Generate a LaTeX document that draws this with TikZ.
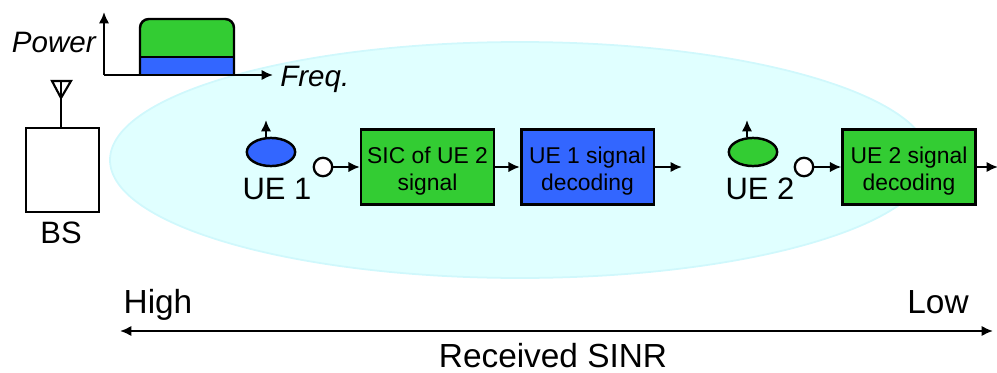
\documentclass[tikz,border=0pt]{standalone}
\usepackage{fontspec}
\setmainfont{Liberation Sans}
\usetikzlibrary{arrows.meta,positioning,shapes.geometric}
\definecolor{uegreen}{HTML}{33CC33}
\definecolor{ueblue}{HTML}{3366FF}
\definecolor{cellfill}{HTML}{E0FFFF}
\definecolor{celledge}{HTML}{D0F8FC}
\newcommand{\blocktext}[2]{\rule{0pt}{14.5pt}#1\\#2}
\tikzset{
  blockbox/.style={draw,line width=1.5pt,minimum width=75.5pt,minimum height=42.5pt,inner sep=0pt,align=center,font=\fontsize{13}{15.3}\selectfont},
  uelabel/.style={inner sep=0pt,anchor=base,font=\fontsize{17.6}{20}\selectfont},
  biglabel/.style={inner sep=0pt,anchor=base,font=\fontsize{19}{22}\selectfont},
  axislabel/.style={inner sep=0pt,font=\fontsize{16.8}{20}\selectfont\itshape},
  uedot/.style={circle,draw,fill=white,line width=1.3pt,minimum size=10.5pt,inner sep=0pt},
  uehead/.style={ellipse,draw,line width=1.4pt,minimum width=27.5pt,minimum height=16pt,inner sep=0pt},
  sig/.style={-{Latex[length=6.5pt,width=6pt]},line width=1.3pt}
}
\begin{document}
\begin{tikzpicture}[x=0.02cm,y=-0.02cm]
  \useasboundingbox (0,0) rectangle (997,372);

  % Celda
  \path[draw=celledge,fill=cellfill,line width=1pt] (520,160) ellipse (410 and 118);

  % Espectro
  \fill[uegreen,rounded corners=5pt] (140,65) -- (140,19) -- (234,19) -- (234,65) -- cycle;
  \fill[ueblue] (140,57) rectangle (234,75);
  \draw[line width=1.4pt,rounded corners=5pt] (140,75) -- (140,19) -- (234,19) -- (234,75);
  \draw[line width=1.4pt] (140,57) -- (234,57);
  \coordinate (origin) at (104,75);
  \node[axislabel,anchor=base east] (power) at (96,52) {Power};
  \node[axislabel,anchor=base west] (freq) at (280,86) {Freq.};
  \coordinate (powertop) at (104,12);
  \coordinate (freqend) at (273,75);
  \draw[sig] (origin) -- (powertop);
  \draw[sig] (origin) -- (freqend);

  % Estacion base
  \node[draw,line width=1.4pt,minimum width=41.4pt,minimum height=47.6pt,inner sep=0pt] (bs) at (62.5,170) {};
  \node[uelabel] (bslabel) at (61,243) {BS};
  \coordinate (anttip) at (61,98);
  \draw[line width=1.4pt] (bs.north -| anttip) -- (anttip);
  \draw[line width=1.2pt] (52,81) -- (71,81) -- (anttip) -- cycle;
  \draw[line width=0.6pt] (61,81) -- (anttip);

  % UE 1
  \node[uehead,fill=ueblue] (ue1) at (271,152) {};
  \node[uelabel] (ue1label) at (277,199) {UE 1};
  \node[uedot] (dot1) at (323,167) {};
  \node[blockbox,fill=uegreen] (sic) at (427.5,167) {\blocktext{SIC of UE 2}{signal}};
  \node[blockbox,fill=ueblue] (dec1) at (587.5,167) {\blocktext{UE 1 signal}{decoding}};
  \coordinate (ue1up) at (266,120);
  \coordinate (dec1out) at (682,167);
  \draw[sig] (ue1.north -| ue1up) -- (ue1up);
  \draw[sig] (dot1) -- (sic);
  \draw[sig] (sic) -- (dec1);
  \draw[sig] (dec1) -- (dec1out);

  % UE 2
  \node[uehead,fill=uegreen] (ue2) at (753,152) {};
  \node[uelabel] (ue2label) at (760,199) {UE 2};
  \node[uedot] (dot2) at (804,167) {};
  \node[blockbox,fill=uegreen] (dec2) at (909,167) {\blocktext{UE 2 signal}{decoding}};
  \coordinate (ue2up) at (747,120);
  \coordinate (dec2out) at (998,167);
  \draw[sig] (ue2.north -| ue2up) -- (ue2up);
  \draw[sig] (dot2) -- (dec2);
  \draw[sig] (dec2) -- (dec2out);

  % Eje SINR
  \node[biglabel] (high) at (158,313) {High};
  \node[biglabel] (low) at (938,313) {Low};
  \node[biglabel] (sinr) at (553,367) {Received SINR};
  \coordinate (sinrl) at (120,331);
  \coordinate (sinrr) at (993,331);
  \draw[{Latex[length=6.5pt,width=6pt]}-{Latex[length=6.5pt,width=6pt]},line width=1.3pt] (sinrl) -- (sinrr);
\end{tikzpicture}
\end{document}
